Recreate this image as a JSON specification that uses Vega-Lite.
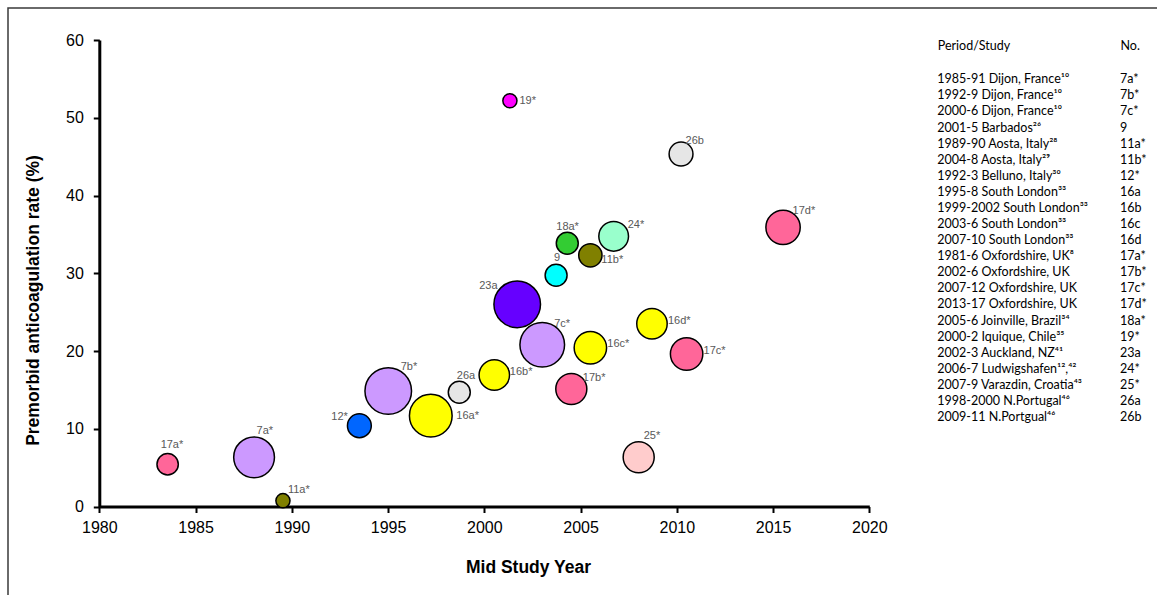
{
  "$schema": "https://vega.github.io/schema/vega-lite/v6.json",
  "width": 1153,
  "height": 591,
  "autosize": {"type": "none"},
  "padding": {"left": 8, "top": 8, "right": -4, "bottom": -4},
  "background": "white",
  "config": {
    "view": {"stroke": "#3a3a3a", "strokeWidth": 1.5},
    "font": "Liberation Sans"
  },
  "params": [
    {"name": "off", "value": {
      "17a*": [-7, -16], "7a*": [2.5, -23], "11a*": [5, -8], "12*": [-28, -6],
      "7b*": [12.5, -21], "26a": [-2.5, -13], "16a*": [25.5, 3.5], "16b*": [15.5, 0],
      "23a": [-38, -15], "19*": [9.5, 3.5], "26b": [4.5, -10], "17d*": [9.5, -13.5],
      "18a*": [-11, -13], "24*": [14, -8.5], "9": [-2, -14], "11b*": [11, 8],
      "16d*": [16, 0.5], "7c*": [12, -17.5], "16c*": [17, -0.5], "17c*": [17, -0.5],
      "17b*": [11.5, -8], "25*": [5, -18]
    }}
  ],
  "layer": [
    {
      "data": {"values": [
        {"label": "17a*", "group": "17", "year": 1983.55, "rate": 5.43, "weight": 121},
        {"label": "7a*", "group": "7", "year": 1988.04, "rate": 6.33, "weight": 441},
        {"label": "11a*", "group": "11", "year": 1989.54, "rate": 0.75, "weight": 53},
        {"label": "12*", "group": "12", "year": 1993.51, "rate": 10.39, "weight": 151},
        {"label": "7b*", "group": "7", "year": 1995.01, "rate": 14.86, "weight": 576},
        {"label": "16a*", "group": "16", "year": 1997.22, "rate": 11.68, "weight": 484},
        {"label": "26a", "group": "26", "year": 1998.7, "rate": 14.69, "weight": 128},
        {"label": "16b*", "group": "16", "year": 2000.52, "rate": 16.91, "weight": 246},
        {"label": "19*", "group": "19", "year": 2001.33, "rate": 52.19, "weight": 53},
        {"label": "23a", "group": "23", "year": 2001.71, "rate": 26.0, "weight": 576},
        {"label": "7c*", "group": "7", "year": 2003.01, "rate": 20.81, "weight": 529},
        {"label": "9", "group": "9", "year": 2003.73, "rate": 29.74, "weight": 128},
        {"label": "18a*", "group": "18", "year": 2004.31, "rate": 33.85, "weight": 128},
        {"label": "17b*", "group": "17", "year": 2004.52, "rate": 15.11, "weight": 256},
        {"label": "11b*", "group": "11", "year": 2005.51, "rate": 32.31, "weight": 144},
        {"label": "16c*", "group": "16", "year": 2005.51, "rate": 20.42, "weight": 279},
        {"label": "24*", "group": "24", "year": 2006.72, "rate": 34.75, "weight": 234},
        {"label": "25*", "group": "25", "year": 2008.02, "rate": 6.33, "weight": 256},
        {"label": "16d*", "group": "16", "year": 2008.71, "rate": 23.51, "weight": 246},
        {"label": "26b", "group": "26", "year": 2010.22, "rate": 45.34, "weight": 151},
        {"label": "17c*", "group": "17", "year": 2010.51, "rate": 19.61, "weight": 279},
        {"label": "17d*", "group": "17", "year": 2015.52, "rate": 35.91, "weight": 313}
      ]},
      "encoding": {
        "x": {
          "field": "year", "type": "quantitative",
          "scale": {"domain": [1980, 2020], "range": [91.3, 861.3], "nice": false, "zero": false},
          "axis": {
            "orient": "bottom", "offset": -92.5, "grid": false,
            "values": [1980, 1985, 1990, 1995, 2000, 2005, 2010, 2015, 2020], "format": "d",
            "domainColor": "#000000", "domainWidth": 3,
            "tickColor": "#000000", "tickWidth": 2, "tickSize": 6,
            "labelFont": "Liberation Sans", "labelFontSize": 16, "labelColor": "#000000", "labelPadding": 7,
            "labelFlush": false, "labelOverlap": false,
            "title": "Mid Study Year", "titleFont": "Liberation Sans", "titleFontSize": 17.5,
            "titleFontWeight": "bold", "titleColor": "#000000",
            "titleX": 520, "titleY": 65.5, "titleBaseline": "alphabetic", "titleAlign": "center"
          }
        },
        "y": {
          "field": "rate", "type": "quantitative",
          "scale": {"domain": [0, 60], "range": [498.5, 32], "nice": false, "zero": false},
          "axis": {
            "orient": "left", "offset": -91.3, "grid": false,
            "values": [0, 10, 20, 30, 40, 50, 60],
            "domainColor": "#000000", "domainWidth": 3,
            "tickColor": "#000000", "tickWidth": 2, "tickSize": 6,
            "labelFont": "Liberation Sans", "labelFontSize": 16, "labelColor": "#000000", "labelPadding": 10,
            "labelFlush": false, "labelOverlap": false,
            "title": "Premorbid anticoagulation rate (%)", "titleFont": "Liberation Sans", "titleFontSize": 17.5,
            "titleFontWeight": "bold", "titleColor": "#000000",
            "titleX": -61, "titleY": 292, "titleAngle": -90, "titleBaseline": "alphabetic", "titleAlign": "center"
          }
        }
      },
      "layer": [
        {
          "mark": {"type": "circle", "opacity": 1, "stroke": "#000000", "strokeWidth": 1.5},
          "encoding": {
            "size": {"field": "weight", "type": "quantitative", "scale": {"type": "linear", "domain": [0, 576], "range": [0, 2170]}, "legend": null},
            "color": {
              "field": "group", "type": "nominal", "legend": null,
              "scale": {
                "domain": ["7", "9", "11", "12", "16", "17", "18", "19", "23", "24", "25", "26"],
                "range": ["#cc99ff", "#00ffff", "#808000", "#0066ff", "#ffff00", "#ff6699", "#33cc33", "#ff00ff", "#6600ff", "#99ffcc", "#ffcccc", "#e6e6e6"]
              }
            },
            "order": {"field": "weight", "type": "quantitative", "sort": "descending"}
          }
        },
        {
          "mark": {
            "type": "text", "align": "left", "baseline": "alphabetic",
            "font": "Liberation Sans", "fontSize": 11, "color": "#595959",
            "dx": {"expr": "off[datum.label][0]"},
            "dy": {"expr": "off[datum.label][1]"}
          },
          "encoding": {"text": {"field": "label", "type": "nominal"}}
        }
      ]
    },
    {
      "data": {"values": [
        {"study": "1985-91 Dijon, France¹⁰", "no": "7a*"},
        {"study": "1992-9 Dijon, France¹⁰", "no": "7b*"},
        {"study": "2000-6 Dijon, France¹⁰", "no": "7c*"},
        {"study": "2001-5 Barbados²⁶", "no": " 9"},
        {"study": "1989-90 Aosta, Italy²⁸", "no": "11a*"},
        {"study": "2004-8 Aosta, Italy²⁹", "no": "11b*"},
        {"study": "1992-3 Belluno, Italy³⁰", "no": "12*"},
        {"study": "1995-8 South London³³", "no": "16a"},
        {"study": "1999-2002 South London³³", "no": "16b"},
        {"study": "2003-6 South London³³", "no": "16c"},
        {"study": "2007-10 South London³³", "no": "16d"},
        {"study": "1981-6 Oxfordshire, UK⁸", "no": "17a*"},
        {"study": "2002-6 Oxfordshire, UK", "no": "17b*"},
        {"study": "2007-12 Oxfordshire, UK", "no": "17c*"},
        {"study": "2013-17 Oxfordshire, UK", "no": "17d*"},
        {"study": "2005-6 Joinville, Brazil³⁴", "no": "18a*"},
        {"study": "2000-2 Iquique, Chile³⁵", "no": "19*"},
        {"study": "2002-3 Auckland, NZ⁴¹", "no": "23a"},
        {"study": "2006-7 Ludwigshafen¹²,⁴²", "no": "24*"},
        {"study": "2007-9 Varazdin, Croatia⁴³", "no": "25*"},
        {"study": "1998-2000 N.Portugal⁴⁶", "no": "26a"},
        {"study": "2009-11 N.Portgual⁴⁶", "no": "26b"}
      ]},
      "transform": [{"fold": ["study", "no"], "as": ["col", "txt"]}],
      "mark": {"type": "text", "align": "left", "baseline": "alphabetic", "font": "Lato", "fontSize": 12.5, "color": "#000000"},
      "encoding": {
        "x": {
          "field": "col", "type": "nominal",
          "scale": {"type": "point", "domain": ["study", "no"], "range": [929.3, 1112], "padding": 0},
          "axis": {
            "orient": "top", "offset": -41.3, "ticks": false, "tickSize": 0, "domain": false, "grid": false,
            "labelExpr": "datum.value == 'study' ? 'Period/Study' : 'No.'",
            "labelAlign": "left", "labelBaseline": "alphabetic", "labelPadding": 0,
            "labelFont": "Lato", "labelFontSize": 12.5, "labelColor": "#000000", "labelAngle": 0,
            "title": null
          }
        },
        "y": {
          "field": "study", "type": "nominal", "sort": null,
          "scale": {"type": "point", "range": [75.3, 413], "padding": 0},
          "axis": null
        },
        "text": {"field": "txt", "type": "nominal"}
      }
    }
  ],
  "resolve": {"scale": {"x": "independent", "y": "independent"}, "axis": {"x": "independent", "y": "independent"}}
}
